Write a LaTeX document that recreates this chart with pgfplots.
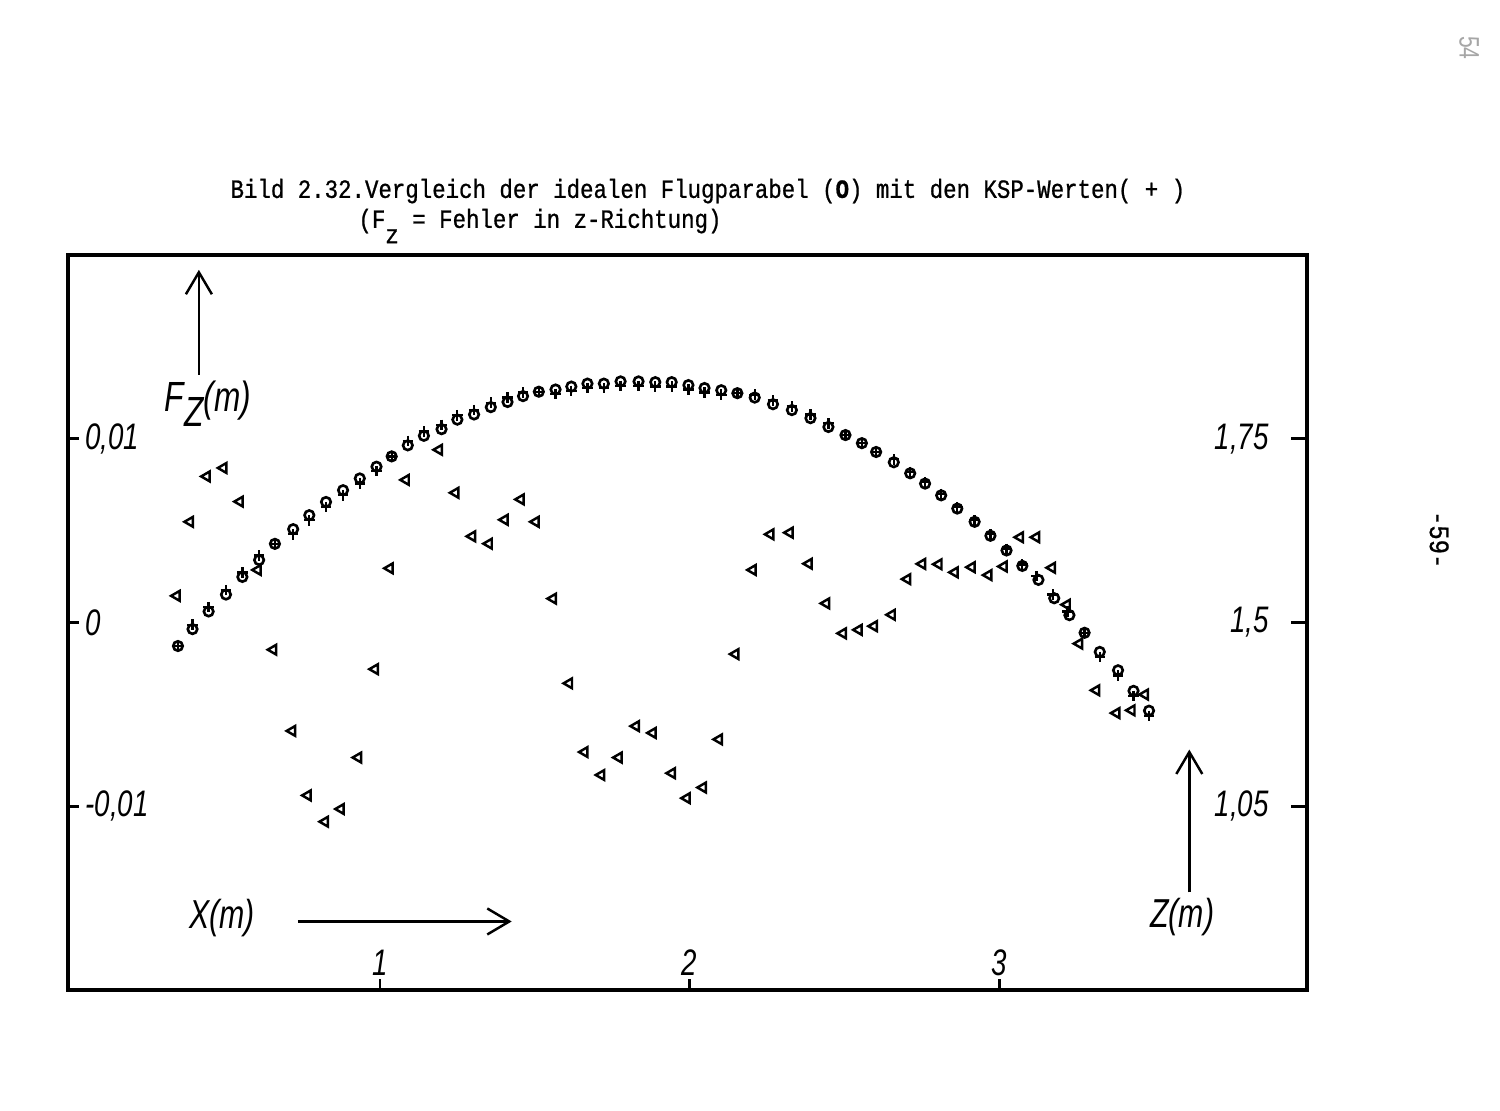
\documentclass[border=0pt]{standalone}
\usepackage{fontspec}
\usepackage{pgfplots}
\pgfplotsset{compat=1.18}
\usetikzlibrary{arrows.meta}
\newfontfamily\hand{Liberation Sans}[FakeStretch=0.75]
\newfontfamily\tw{Liberation Mono}[FakeStretch=0.85, FakeBold=0.8]
\begin{document}
\begin{tikzpicture}
\path[use as bounding box, fill=white] (0,0) rectangle (15cm,11.1cm);
% ---------- left axis: error F_z ----------
\begin{axis}[
  at={(0.68cm,1.20cm)}, anchor=south west,
  scale only axis, width=12.39cm, height=7.35cm,
  xmin=-0.007, xmax=3.993, ymin=-0.02, ymax=0.02,
  scaled y ticks=false, scaled x ticks=false,
  axis line style={line width=1.4pt},
  tick align=inside, major tick length=0.11cm,
  tick style={line width=0.8pt, black},
  xtick pos=left, ytick pos=left,
  xtick={1,2,3}, xticklabels={1,2,3},
  ytick={-0.01,0,0.01}, yticklabels={{-0,01},{0},{0,01}},
  tick label style={font=\hand\itshape\fontsize{10.5}{12}\selectfont},
  yticklabel style={anchor=west, xshift=0.05cm},
  xticklabel style={anchor=south, yshift=0.02cm},
  clip=false,
]
\addplot[only marks, mark=triangle, mark size=1.6pt,
  mark options={rotate=90, line width=0.7pt, black}] coordinates {
(0.344,0.00145) (0.387,0.00548) (0.441,0.00795) (0.495,0.00841) (0.548,0.00658)
(0.606,0.00286) (0.656,-0.00148) (0.717,-0.00590) (0.767,-0.00941) (0.823,-0.01084)
(0.874,-0.01015) (0.930,-0.00735) (0.984,-0.00254) (1.032,0.00295) (1.084,0.00776)
(1.191,0.00940) (1.244,0.00706) (1.298,0.00469) (1.352,0.00429) (1.403,0.00559)
(1.455,0.00670) (1.503,0.00548) (1.559,0.00130) (1.611,-0.00331) (1.661,-0.00705)
(1.715,-0.00830) (1.771,-0.00735) (1.827,-0.00564) (1.881,-0.00601) (1.943,-0.00820)
(1.991,-0.00956) (2.043,-0.00898) (2.095,-0.00636) (2.148,-0.00172) (2.204,0.00286)
(2.261,0.00480) (2.323,0.00489) (2.385,0.00320) (2.441,0.00104) (2.495,-0.00059)
(2.546,-0.00040) (2.595,-0.00020) (2.653,0.00042) (2.703,0.00236) (2.751,0.00319)
(2.804,0.00317) (2.856,0.00273) (2.911,0.00301) (2.965,0.00258) (3.014,0.00305)
(3.067,0.00464) (3.119,0.00464) (3.170,0.00298) (3.218,0.00097) (3.258,-0.00115)
(3.313,-0.00369) (3.378,-0.00493) (3.427,-0.00478) (3.470,-0.00392)
};
\end{axis}
% ---------- right axis: height Z ----------
\begin{axis}[
  at={(0.68cm,1.20cm)}, anchor=south west,
  scale only axis, width=12.39cm, height=7.35cm,
  xmin=-0.007, xmax=3.993, ymin=1, ymax=2,
  axis x line=none, axis y line*=right,
  axis line style={line width=1.4pt},
  tick align=inside, major tick length=0.16cm,
  tick style={line width=0.8pt, black},
  ytick={1.25,1.5,1.75}, yticklabels={{1,05},{1,5},{1,75}},
  tick label style={font=\hand\itshape\fontsize{10.5}{12}\selectfont},
  yticklabel style={anchor=east, xshift=-0.26cm},
  clip=false,
]
\addplot[only marks, mark=o, mark size=1.35pt,
  mark options={line width=0.75pt, black}] coordinates {
(0.348,1.468) (0.395,1.491) (0.447,1.515) (0.503,1.538) (0.556,1.562)
(0.610,1.585) (0.661,1.607) (0.720,1.627) (0.772,1.646) (0.826,1.664)
(0.881,1.680) (0.935,1.696) (0.989,1.712) (1.038,1.726) (1.090,1.741)
(1.142,1.754) (1.199,1.763) (1.250,1.776) (1.304,1.783) (1.358,1.793)
(1.412,1.800) (1.462,1.808) (1.513,1.814) (1.567,1.817) (1.618,1.821)
(1.670,1.825) (1.723,1.825) (1.777,1.828) (1.835,1.828) (1.889,1.827)
(1.942,1.827) (1.996,1.823) (2.048,1.819) (2.102,1.816) (2.154,1.812)
(2.210,1.806) (2.269,1.797) (2.330,1.789) (2.390,1.778) (2.448,1.766)
(2.503,1.755) (2.556,1.744) (2.602,1.732) (2.659,1.718) (2.712,1.703)
(2.760,1.689) (2.812,1.673) (2.864,1.655) (2.920,1.637) (2.971,1.618)
(3.023,1.598) (3.074,1.577) (3.126,1.558) (3.177,1.533) (3.226,1.510)
(3.275,1.486) (3.324,1.460) (3.383,1.435) (3.433,1.407) (3.483,1.380)
};
\addplot[only marks, mark=+, mark size=1.5pt,
  mark options={line width=0.65pt, black}] coordinates {
(0.348,1.468) (0.395,1.497) (0.447,1.521) (0.503,1.544) (0.556,1.568)
(0.610,1.591) (0.661,1.607) (0.720,1.620) (0.772,1.639) (0.826,1.657)
(0.881,1.673) (0.935,1.689) (0.989,1.706) (1.038,1.726) (1.090,1.747)
(1.142,1.760) (1.199,1.769) (1.250,1.782) (1.304,1.789) (1.358,1.799)
(1.412,1.806) (1.462,1.813) (1.513,1.814) (1.567,1.811) (1.618,1.815)
(1.670,1.819) (1.723,1.819) (1.777,1.822) (1.835,1.822) (1.889,1.821)
(1.942,1.821) (1.996,1.817) (2.048,1.813) (2.102,1.810) (2.154,1.812)
(2.210,1.810) (2.269,1.802) (2.330,1.794) (2.390,1.783) (2.448,1.771)
(2.503,1.755) (2.556,1.744) (2.602,1.732) (2.659,1.722) (2.712,1.705)
(2.760,1.691) (2.812,1.675) (2.864,1.657) (2.920,1.639) (2.971,1.620)
(3.023,1.600) (3.074,1.579) (3.120,1.563) (3.172,1.538) (3.220,1.515)
(3.275,1.486) (3.324,1.453) (3.383,1.428) (3.433,1.400) (3.483,1.373)
};
\end{axis}
% ---------- annotations (pixel grid of the page) ----------
\begin{scope}[x=0.01cm, y=-0.01cm, shift={(0,11.1cm)}]
  \node[anchor=base west, inner sep=0, font=\tw\fontsize{7.5}{9}\selectfont]
    at (230,198) {Bild 2.32.Vergleich der idealen Flugparabel ({\bfseries O}) mit den KSP-Werten( + )};
  \node[anchor=base west, inner sep=0, font=\tw\fontsize{7.5}{9}\selectfont]
    at (358,228) {(F\raisebox{-1.1ex}{z} = Fehler in z-Richtung)};
  \draw[line width=0.7pt, -{Straight Barb[length=2.2mm,width=2.6mm]}] (199,375) -- (199,270);
  \node[font=\hand\itshape\fontsize{12}{14}\selectfont, inner sep=0] at (208,404)
    {F\raisebox{-0.7ex}{Z}(m)};
  \node[font=\hand\itshape\fontsize{11.5}{14}\selectfont, inner sep=0] at (222,919) {X(m)};
  \draw[line width=0.7pt, -{Straight Barb[length=2.2mm,width=2.6mm]}] (298,922) -- (512,922);
  \node[font=\hand\itshape\fontsize{11.5}{14}\selectfont, inner sep=0] at (1183,918) {Z(m)};
  \draw[line width=0.7pt, -{Straight Barb[length=2.2mm,width=2.6mm]}] (1190,893) -- (1190,750);
  \node[rotate=-90, font=\tw\fontsize{8}{9}\selectfont, inner sep=0] at (1440,540) {-59-};
  \node[rotate=-90, font=\hand\fontsize{8}{9}\selectfont, text=black!35, inner sep=0] at (1470,48) {54};
\end{scope}
\end{tikzpicture}
\end{document}
